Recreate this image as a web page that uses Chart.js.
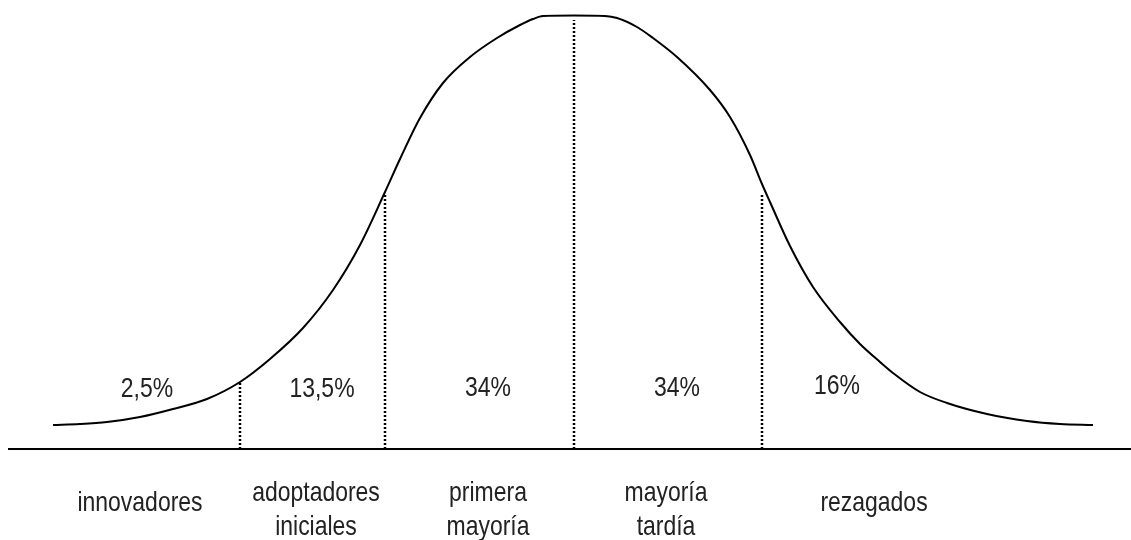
<!DOCTYPE html>
<html>
<head>
<meta charset="utf-8">
<script src="https://cdn.jsdelivr.net/npm/chart.js@4/dist/chart.umd.min.js"></script>
<style>
  html, body { margin: 0; padding: 0; background: #ffffff; }
  #wrap { width: 1131px; height: 540px; position: relative; }
  canvas { display: block; }
</style>
</head>
<body>
<div id="wrap"><canvas id="c" width="1131" height="540"></canvas></div>
<script>
// Bell curve: x position and height above the baseline
const curveX = [53, 80, 107, 140, 173, 207, 240, 270, 303, 333, 360, 385, 400, 420, 443, 470, 497, 520, 533, 543, 574, 605, 617, 637, 653, 677, 710, 730, 750, 762, 770, 790, 813, 840, 860, 880, 893, 920, 947, 987, 1027, 1060, 1093];
const curveY = [24, 25, 27, 32, 40, 50, 67, 90, 121, 159, 204, 257, 290, 331, 366, 392, 411, 424, 430, 433, 433.5, 433, 431, 422, 411, 392, 359, 332, 294, 265, 247, 203, 162, 127, 105, 87, 76, 57, 46, 35, 28, 25, 24];

// Segment dividers (dotted lines): x position and height where they meet the curve
const dividerX = [240, 385, 574, 762];
const dividerTop = [66, 256, 429, 256];

// Baseline extent
const baselineX = [8, 1131];

// Share of each segment
const shareLabels = ["2,5%", "13,5%", "34%", "34%", "16%"];
const shareX = [147, 322, 488, 677, 837];
const shareY = [60, 60, 61, 61, 63];

// Category names below the axis
const categoryLabels = [["innovadores"], ["adoptadores", "iniciales"], ["primera", "mayoría"], ["mayoría", "tardía"], ["rezagados"]];
const categoryX = [140, 316, 488, 666, 874];
const categoryTopY = [-54, -44, -44, -44, -54];
const lineStep = 34;

const curveData = curveX.map((x, i) => ({ x: x, y: curveY[i] }));
const datasets = [
  {
    data: curveData,
    borderColor: '#000000',
    borderWidth: 2,
    pointRadius: 0,
    cubicInterpolationMode: 'monotone',
    fill: false
  },
  {
    data: [{ x: baselineX[0], y: 0 }, { x: baselineX[1], y: 0 }],
    borderColor: '#000000',
    borderWidth: 2,
    pointRadius: 0,
    fill: false
  }
];
dividerX.forEach((x, i) => {
  datasets.push({
    data: [{ x: x, y: 0 }, { x: x, y: dividerTop[i] }],
    borderColor: '#000000',
    borderWidth: 2.5,
    borderDash: [2, 2],
    pointRadius: 0,
    fill: false
  });
});

const textFont = '28px "Liberation Sans", Arial, sans-serif';
const narrow = 0.82;

const labelPlugin = {
  id: 'labels',
  afterDatasetsDraw(chart) {
    const ctx = chart.ctx;
    const xs = chart.scales.x, ys = chart.scales.y;
    const draw = (t, px, py) => {
      ctx.save();
      ctx.translate(px, py);
      ctx.scale(narrow, 1);
      ctx.fillText(t, 0, 0);
      ctx.restore();
    };
    ctx.save();
    ctx.fillStyle = '#222222';
    ctx.font = textFont;
    ctx.textAlign = 'center';
    ctx.textBaseline = 'middle';
    shareLabels.forEach((t, i) => {
      draw(t, xs.getPixelForValue(shareX[i]), ys.getPixelForValue(shareY[i]));
    });
    categoryLabels.forEach((lines, i) => {
      lines.forEach((t, j) => {
        draw(t, xs.getPixelForValue(categoryX[i]), ys.getPixelForValue(categoryTopY[i]) + j * lineStep);
      });
    });
    ctx.restore();
  }
};

new Chart(document.getElementById('c'), {
  type: 'line',
  data: { datasets: datasets },
  options: {
    responsive: false,
    animation: false,
    layout: { padding: 0 },
    plugins: { legend: { display: false }, tooltip: { enabled: false } },
    scales: {
      x: { type: 'linear', min: 0, max: 1131, display: false },
      y: { type: 'linear', min: -91, max: 449, display: false }
    }
  },
  plugins: [labelPlugin]
});
</script>
</body>
</html>
